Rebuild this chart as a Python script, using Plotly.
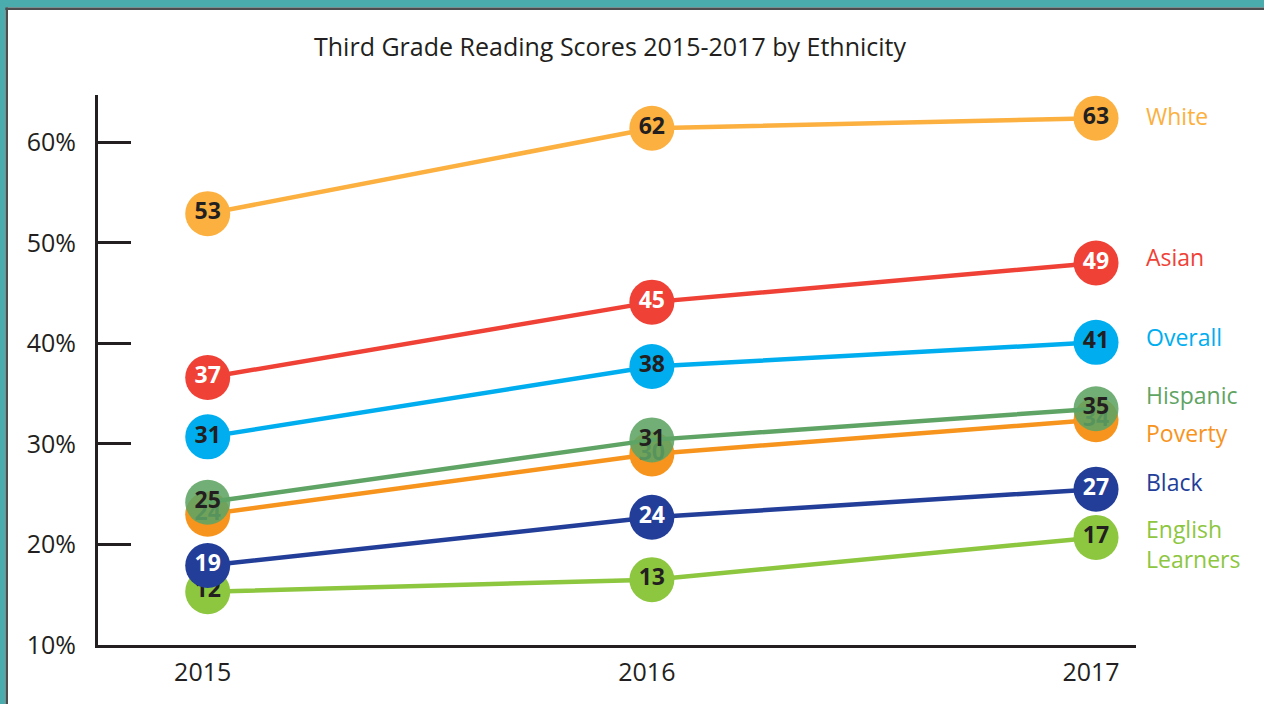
import plotly.graph_objects as go

years = [2015, 2016, 2017]

# plotted positions (percent)
white = [52.9, 61.4, 62.4]
asian = [36.6, 44.1, 48.0]
overall = [30.7, 37.7, 40.1]
hispanic = [24.2, 30.4, 33.5]
poverty = [23.0, 29.0, 32.4]
black = [17.9, 22.7, 25.5]
english_learners = [15.3, 16.5, 20.7]

# printed labels inside the circles
white_lbl = ["53", "62", "63"]
asian_lbl = ["37", "45", "49"]
overall_lbl = ["31", "38", "41"]
hispanic_lbl = ["25", "31", "35"]
poverty_lbl = ["24", "30", "34"]
black_lbl = ["19", "24", "27"]
el_lbl = ["12", "13", "17"]

y_ticks = [10, 20, 30, 40, 50, 60]
y_tick_text = ["10%", "20%", "30%", "40%", "50%", "60%"]

FONT = "Open Sans"
INK = "#231f20"

# drawing order matters: later series sit on top
series = [
    ("English<br>Learners", english_learners, el_lbl, "#8dc63f", INK, 1.0, 20.04),
    ("Black", black, black_lbl, "#233e99", "white", 1.0, 26.26),
    ("Poverty", poverty, poverty_lbl, "#f7941d", INK, 1.0, 31.07),
    ("Hispanic", hispanic, hispanic_lbl, "#5fa464", INK, 0.88, 34.88),
    ("Overall", overall, overall_lbl, "#00aeef", INK, 1.0, 40.62),
    ("Asian", asian, asian_lbl, "#ef4136", "white", 1.0, 48.63),
    ("White", white, white_lbl, "#fbb040", INK, 1.0, 62.61),
]

fig = go.Figure()
for name, vals, lbls, color, txtcolor, op, _ in series:
    fig.add_trace(go.Scatter(
        x=years, y=vals, text=lbls, name=name,
        mode="lines+markers+text", textposition="middle center",
        line=dict(color=color, width=4.5),
        marker=dict(size=45, color=color, opacity=op, line=dict(width=0)),
        textfont=dict(family=FONT, size=23, color=txtcolor, weight="bold"),
        hoverinfo="skip",
    ))

for name, _, _, color, _, _, ly in series:
    fig.add_annotation(
        x=1.008, xref="paper", y=ly, yref="y", text=name,
        xanchor="left", yanchor="middle", align="left", showarrow=False,
        font=dict(family=FONT, size=23, color=color),
    )

# teal frame with dark inner rule (top and left edges)
px = lambda v: (v - 98) / 1038
py = lambda v: (645 - v) / 550
fig.add_shape(type="rect", xref="paper", yref="paper", x0=px(0), x1=px(1264),
              y0=py(7.5), y1=py(-2), fillcolor="#4aacac", line_width=0, layer="below")
fig.add_shape(type="rect", xref="paper", yref="paper", x0=px(5), x1=px(1264),
              y0=py(10), y1=py(7.5), fillcolor="#4d4d4f", line_width=0, layer="below")
fig.add_shape(type="rect", xref="paper", yref="paper", x0=px(-2), x1=px(5.5),
              y0=py(706), y1=py(-2), fillcolor="#4aacac", line_width=0, layer="below")
fig.add_shape(type="rect", xref="paper", yref="paper", x0=px(5.5), x1=px(8),
              y0=py(706), y1=py(7.5), fillcolor="#4d4d4f", line_width=0, layer="below")

fig.update_layout(
    width=1264, height=704,
    margin=dict(l=98, r=128, t=95, b=59),
    paper_bgcolor="white", plot_bgcolor="white",
    showlegend=False, hovermode=False,
    font=dict(family=FONT, color=INK),
    title=dict(
        text="Third Grade Reading Scores 2015-2017 by Ethnicity",
        x=(610 - 98) / 1038, xref="paper", xanchor="center",
        y=1 - 47 / 704, yref="container", yanchor="middle",
        font=dict(family=FONT, size=25, color=INK),
    ),
)
fig.update_xaxes(
    range=[2014.753, 2017.09], tickvals=years, ticktext=[str(y) for y in years],
    showgrid=False, zeroline=False, showline=True, linecolor=INK, linewidth=3,
    ticks="", tickfont=dict(family=FONT, size=25, color=INK),
    ticklabelstandoff=3, ticklabelshift=-5,
)
fig.update_yaxes(
    range=[10, 64.7], tickvals=y_ticks, ticktext=y_tick_text,
    showgrid=False, zeroline=False, showline=True, linecolor=INK, linewidth=3,
    ticks="inside", ticklen=33, tickwidth=3, tickcolor=INK,
    tickfont=dict(family=FONT, size=25, color=INK), ticklabelstandoff=14,
)

fig.write_html("out.html", config={"displayModeBar": False},
               post_script="document.body.style.margin='0';")
